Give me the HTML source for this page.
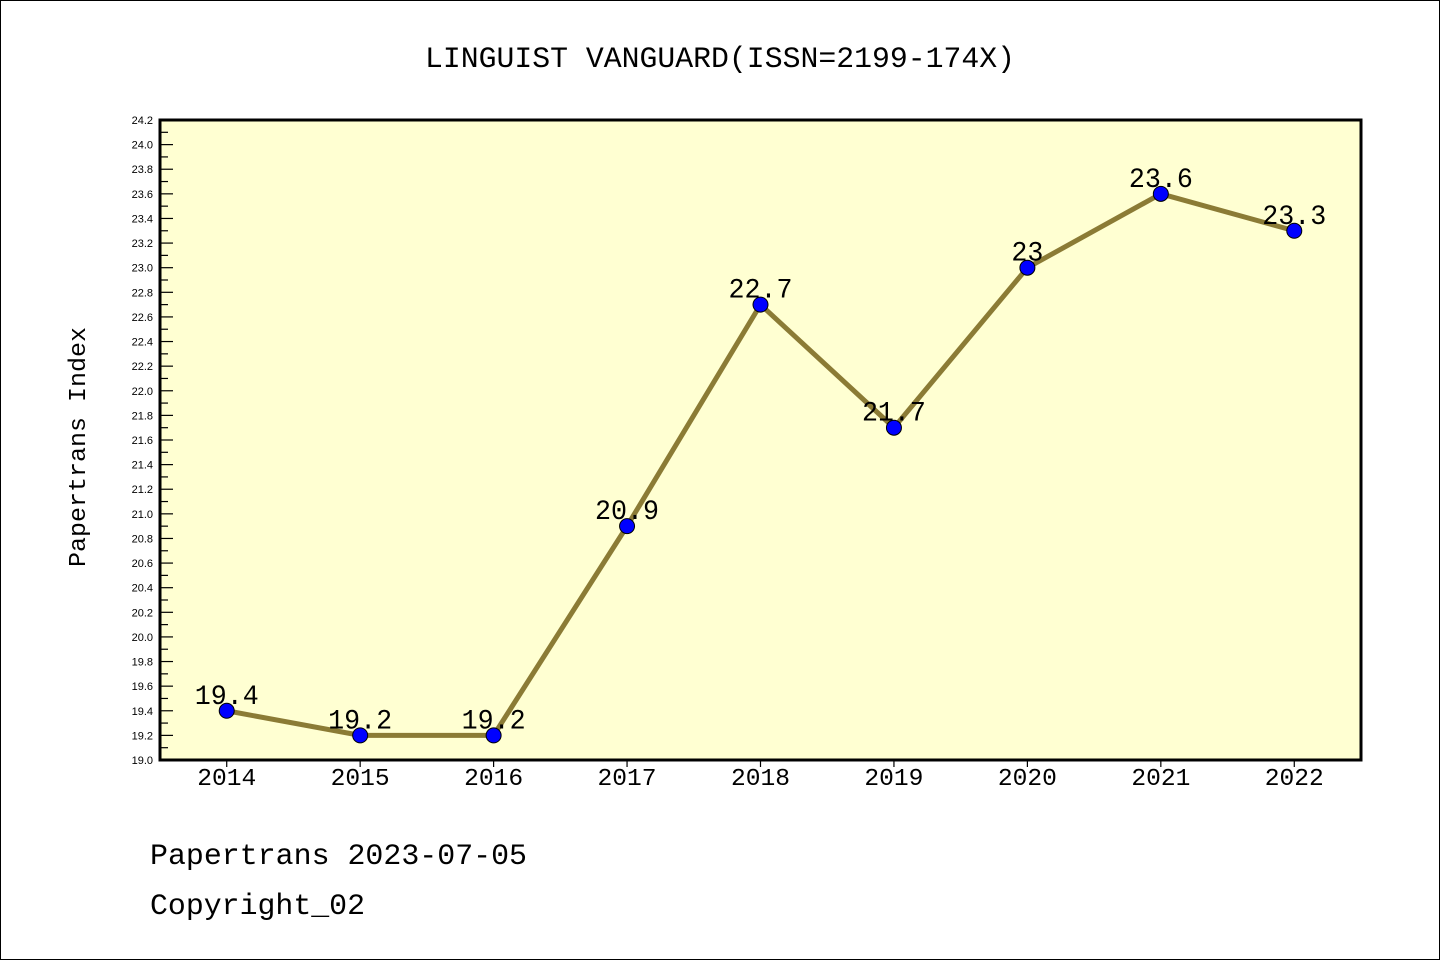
<!DOCTYPE html>
<html><head><meta charset="utf-8"><style>
html,body{margin:0;padding:0;background:#fff}
svg{display:block;font-family:"Liberation Mono","Noto Sans CJK SC",monospace}
</style></head><body>
<svg width="1440" height="960">
<rect x="0.5" y="0.5" width="1439" height="959" fill="#fff" stroke="#000"/>
<text x="425" y="67" textLength="590" lengthAdjust="spacingAndGlyphs" font-size="30">LINGUIST VANGUARD(ISSN=2199-174X)</text>
<rect x="160" y="120" width="1201" height="640" fill="#ffffd2"/>
<g id="yaxis"></g>
<g id="xaxis"></g>
<g id="series"></g>
<rect x="160" y="120" width="1201" height="640" fill="none" stroke="#000" stroke-width="3"/>
<text transform="translate(85,447) rotate(-90)" text-anchor="middle" textLength="240" lengthAdjust="spacingAndGlyphs" font-size="24">Papertrans Index</text>
<text x="150" y="864" textLength="377" lengthAdjust="spacingAndGlyphs" font-size="30">Papertrans 2023-07-05</text>
<text x="150" y="914" textLength="215" lengthAdjust="spacingAndGlyphs" font-size="30">Copyright_02</text>
</svg>
<script>
const years = ["2014","2015","2016","2017","2018","2019","2020","2021","2022"];
const values = [19.4,19.2,19.2,20.9,22.7,21.7,23.0,23.6,23.3];
const valueLabels = ["19.4","19.2","19.2","20.9","22.7","21.7","23","23.6","23.3"];
const yMin = 19.0, yMax = 24.2;
const NS="http://www.w3.org/2000/svg";
const X0=160,X1=1361,Y0=760,Y1=120;
const step=(X1-X0)/years.length;
const xs=i=>X0+step*(i+0.5);
const ys=v=>Y0-(v-yMin)/(yMax-yMin)*(Y0-Y1);
function mk(tag,attrs,parent){const e=document.createElementNS(NS,tag);for(const k in attrs)e.setAttribute(k,attrs[k]);parent.appendChild(e);return e;}
const ya=document.getElementById('yaxis'),xa=document.getElementById('xaxis'),se=document.getElementById('series');
for(let k=0;k<=Math.round((yMax-yMin)*10);k++){
 const v=yMin+k*0.1,y=ys(v),major=k%2===0;
 const t=mk('line',{x1:X0,x2:X0+(major?13:8),y1:y,y2:y,stroke:'#000','stroke-width':1.2},ya);
 
 
 if(major){const l=mk('text',{x:153,y:y+4,'text-anchor':'end','font-size':11,'font-family':'Liberation Sans, sans-serif'},ya);l.textContent=v.toFixed(1);
 
 }
}
years.forEach((yr,i)=>{
 const x=xs(i);
 const t=mk('line',{x1:x,x2:x,y1:Y0,y2:Y0+7,stroke:'#000','stroke-width':1.2},xa);
 
 
 const l=mk('text',{x:x,y:785,'text-anchor':'middle','font-size':24,textLength:59,lengthAdjust:'spacingAndGlyphs'},xa);l.textContent=yr;
 
 
});
const pl=mk('polyline',{points:values.map((v,i)=>xs(i)+','+ys(v)).join(' '),fill:'none',stroke:'#8b7b35','stroke-width':5},se);


values.forEach((v,i)=>{
 const s=valueLabels[i];
 const l=mk('text',{x:xs(i),y:ys(v)-7,'text-anchor':'middle','font-size':28,textLength:s.length*16,lengthAdjust:'spacingAndGlyphs'},se);l.textContent=s;
 
 
});
values.forEach((v,i)=>{
 const c=mk('circle',{cx:xs(i),cy:ys(v),r:7.5,fill:'#0000ff',stroke:'#000','stroke-width':1},se);
 
 
});
</script>
</body></html>
